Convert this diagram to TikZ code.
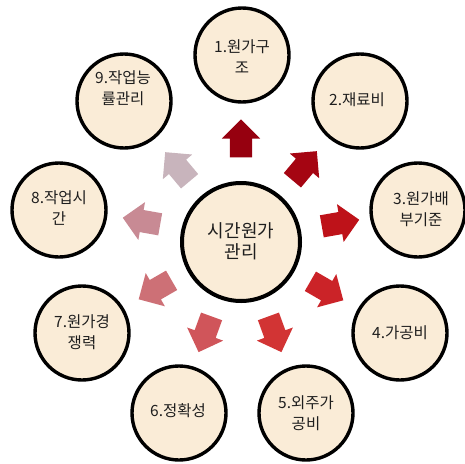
\documentclass[tikz,border=0pt]{standalone}
\usepackage{fontspec}
\newfontfamily\kr{Noto Sans CJK KR}
\usetikzlibrary{shapes.arrows}
\definecolor{bubfill}{RGB}{250,236,215}
\definecolor{txt}{RGB}{30,30,30}
\definecolor{ar1}{RGB}{150,0,15}
\definecolor{ar2}{RGB}{165,5,18}
\definecolor{ar3}{RGB}{190,18,25}
\definecolor{ar4}{RGB}{203,35,40}
\definecolor{ar5}{RGB}{210,52,52}
\definecolor{ar6}{RGB}{208,85,90}
\definecolor{ar7}{RGB}{205,112,118}
\definecolor{ar8}{RGB}{200,138,148}
\definecolor{ar9}{RGB}{200,180,188}
\tikzset{
  bub/.style={circle, draw=black, line width=3.4pt, fill=bubfill, minimum size=94pt, inner sep=0pt},
  hub/.style={circle, draw=black, line width=4pt, fill=bubfill, minimum size=118pt, inner sep=0pt},
  lbl/.style={align=center, text=txt, inner sep=0pt, font=\kr\fontsize{15.5}{21}\selectfont},
  hublbl/.style={align=center, text=txt, inner sep=0pt, font=\kr\fontsize{18}{21}\selectfont},
  blk/.style={single arrow, draw=none, minimum height=38pt, inner xsep=0pt, inner ysep=11pt,
    single arrow head extend=8pt, single arrow tip angle=90}
}
\begin{document}
\begin{tikzpicture}[x=1pt,y=-1pt]
\useasboundingbox (0,0) rectangle (465,463);
% hub
\node[hub] (c0) at (241,242) {};
\node[hublbl] (t0) at (241,241) {시간원가\\관리};
% outer bubbles
\node[bub] (c1) at (242,55) {};
\node[bub] (c2) at (360,101) {};
\node[bub] (c3) at (418,210) {};
\node[bub] (c4) at (400,333) {};
\node[bub] (c5) at (306,413) {};
\node[bub] (c6) at (179,413) {};
\node[bub] (c7) at (82,333) {};
\node[bub] (c8) at (59,210) {};
\node[bub] (c9) at (124,101) {};
\node[lbl] (t1) at (242,57) {1.원가구\\조};
\node[lbl] (t2) at (357,100) {2.재료비};
\node[lbl] (t3) at (421,209) {3.원가배\\부기준};
\node[lbl] (t4) at (400,333) {4.가공비};
\node[lbl] (t5) at (306,413) {5.외주가\\공비};
\node[lbl] (t6) at (178,411) {6.정확성};
\node[lbl] (t7) at (82,332) {7.원가경\\쟁력};
\node[lbl] (t8) at (59,208) {8.작업시\\간};
\node[lbl] (t9) at (123,88) {9.작업능\\률관리};
% arrows
\node[blk, fill=ar1, rotate=90]   (a1) at (241,144) {};
\node[blk, fill=ar2, rotate=50]   (a2) at (301,170) {};
\node[blk, fill=ar3, rotate=10]   (a3) at (335,224) {};
\node[blk, fill=ar4, rotate=-30]  (a4) at (322,288) {};
\node[blk, fill=ar5, rotate=-70]  (a5) at (273,329) {};
\node[blk, fill=ar6, rotate=-110] (a6) at (207,329) {};
\node[blk, fill=ar7, rotate=-150] (a7) at (160,287) {};
\node[blk, fill=ar8, rotate=170]  (a8) at (147,222) {};
\node[blk, fill=ar9, rotate=130]  (a9) at (181,171) {};
\end{tikzpicture}
\end{document}
